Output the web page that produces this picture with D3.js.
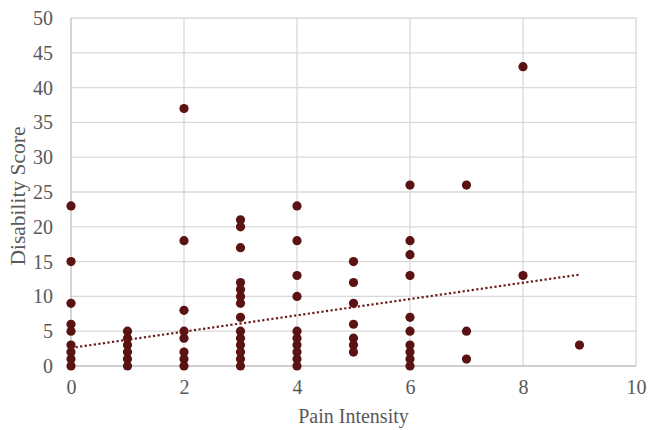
<!DOCTYPE html>
<html><head><meta charset="utf-8">
<script src="https://cdn.jsdelivr.net/npm/d3@7"></script>
<style>html,body{margin:0;padding:0;background:#fff;}</style>
</head><body>
<svg id="chart" width="649" height="430"></svg>
<script>
// Pain intensity (x) and disability score (y), read per column
const painIntensity = [
  0,0,0,0,0,0,0,0,0,
  1,1,1,1,1,1,
  2,2,2,2,2,2,2,2,
  3,3,3,3,3,3,3,3,3,3,3,3,3,3,
  4,4,4,4,4,4,4,4,4,4,
  5,5,5,5,5,5,5,
  6,6,6,6,6,6,6,6,6,6,
  7,7,7,
  8,8,
  9
];
const disabilityScore = [
  23,15,9,6,5,3,2,1,0,
  5,4,3,2,1,0,
  37,18,8,5,4,2,1,0,
  21,20,17,12,11,10,9,7,5,4,3,2,1,0,
  23,18,13,10,5,4,3,2,1,0,
  15,12,9,6,4,3,2,
  26,18,16,13,7,5,3,2,1,0,
  26,5,1,
  43,13,
  3
];
const xTicks = [0,2,4,6,8,10];
const yTicks = [0,5,10,15,20,25,30,35,40,45,50];
// Linear trendline as shown in the chart
const trendIntercept = 2.6;
const trendSlope = 1.17;
const trendRange = [0, 9];

const svg = d3.select("#chart");
const mLeft = 71, mRight = 636, mTop = 18, mBottom = 366;
const x = d3.scaleLinear().domain([0,10]).range([mLeft,mRight]);
const y = d3.scaleLinear().domain([0,50]).range([mBottom,mTop]);
const textColor = "#595959";
const font = "'Liberation Serif','Times New Roman',serif";
const dotColor = "#5a1212";

// gridlines
svg.append("g").selectAll("line").data(yTicks.filter(d=>d>0)).join("line")
  .attr("x1", mLeft).attr("x2", mRight)
  .attr("y1", d=>y(d)).attr("y2", d=>y(d))
  .attr("stroke", "#d9d9d9").attr("stroke-width", 1.3);
svg.append("g").selectAll("line").data(xTicks.filter(d=>d>0)).join("line")
  .attr("x1", d=>x(d)).attr("x2", d=>x(d))
  .attr("y1", mTop).attr("y2", mBottom)
  .attr("stroke", "#d9d9d9").attr("stroke-width", 1.3);

// axis lines
svg.append("line").attr("x1", x(0)).attr("x2", x(0)).attr("y1", mTop).attr("y2", mBottom)
  .attr("stroke", "#bfbfbf").attr("stroke-width", 1.3);
svg.append("line").attr("x1", mLeft).attr("x2", mRight).attr("y1", y(0)).attr("y2", y(0))
  .attr("stroke", "#bfbfbf").attr("stroke-width", 1.3);

// tick labels via d3 axes
const yAxis = svg.append("g").attr("transform", `translate(${mLeft},0)`)
  .call(d3.axisLeft(y).tickValues(yTicks).tickSize(0).tickPadding(18));
const xAxis = svg.append("g").attr("transform", `translate(0,${mBottom})`)
  .call(d3.axisBottom(x).tickValues(xTicks).tickSize(0).tickPadding(14));
[yAxis, xAxis].forEach(a => {
  a.select(".domain").remove();
  a.selectAll("text").attr("fill", textColor).style("font-family", font).style("font-size", "20px");
});

// points
svg.append("g").selectAll("circle").data(painIntensity.map((p,i)=>[p, disabilityScore[i]])).join("circle")
  .attr("cx", d=>x(d[0])).attr("cy", d=>y(d[1])).attr("r", 4.6)
  .attr("fill", dotColor);

// trendline
svg.append("line")
  .attr("x1", x(trendRange[0])).attr("y1", y(trendIntercept + trendSlope*trendRange[0]))
  .attr("x2", x(trendRange[1])).attr("y2", y(trendIntercept + trendSlope*trendRange[1]))
  .attr("stroke", "#6b1a1a").attr("stroke-width", 2.2).attr("stroke-dasharray", "2.2 2.4");

// axis titles
svg.append("text").attr("x", (mLeft+mRight)/2).attr("y", 423).attr("text-anchor", "middle")
  .attr("fill", textColor).style("font-family", font).style("font-size", "20px").text("Pain Intensity");
svg.append("text").attr("transform", `translate(25,196) rotate(-90)`).attr("text-anchor", "middle")
  .attr("fill", textColor).style("font-family", font).style("font-size", "21.5px").text("Disability Score");
</script>
</body></html>
